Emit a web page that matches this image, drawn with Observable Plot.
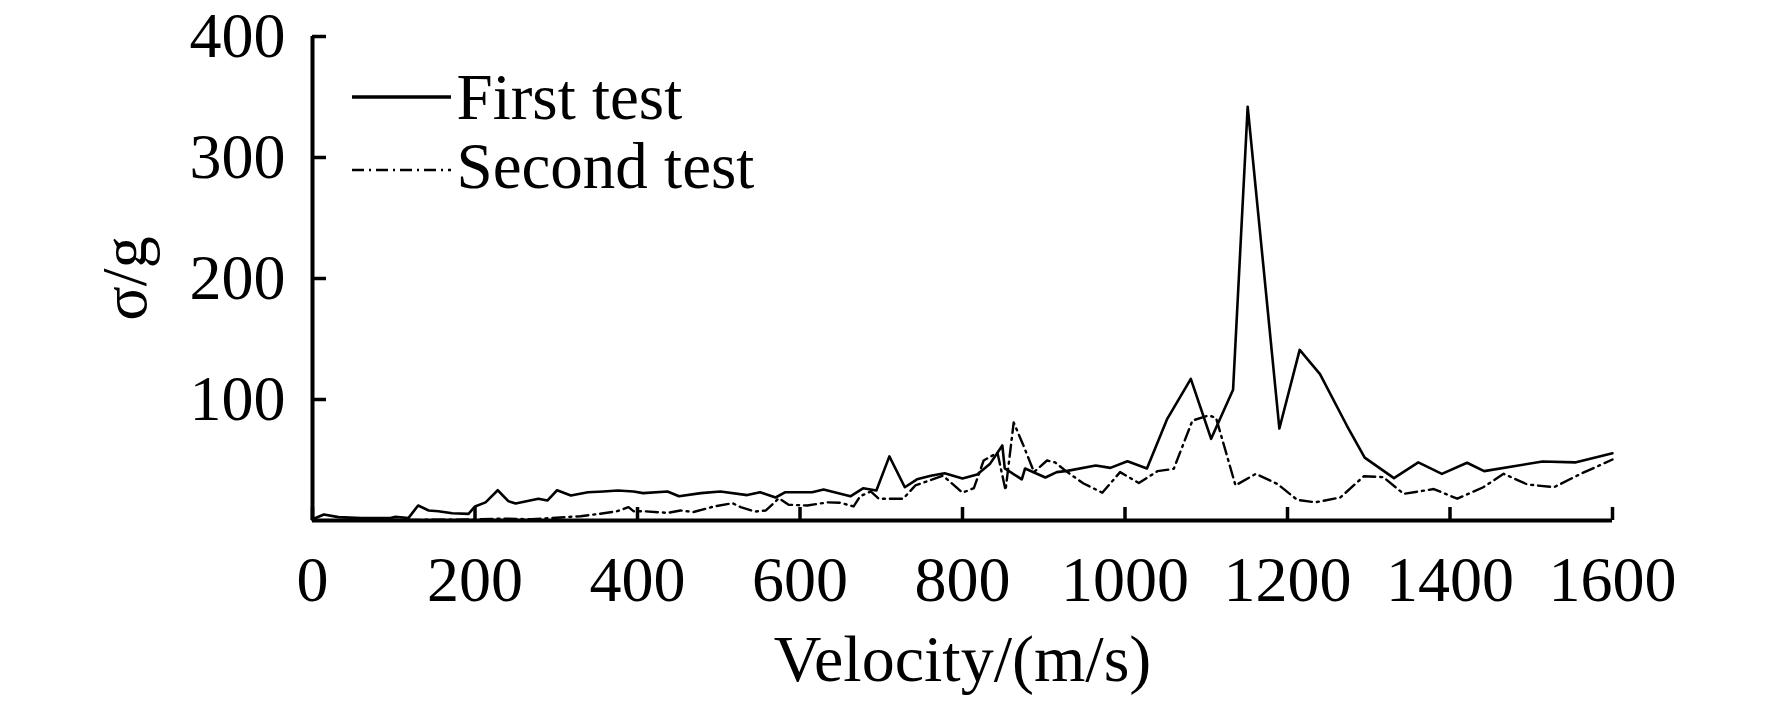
<!DOCTYPE html>
<html>
<head>
<meta charset="utf-8">
<script src="https://cdn.jsdelivr.net/npm/d3@7"></script>
<script src="https://cdn.jsdelivr.net/npm/@observablehq/plot@0.6"></script>
<style>
  html, body { margin: 0; padding: 0; background: #fff; }
  #chart svg { display: block; }
</style>
</head>
<body>
<div id="chart"></div>
<script>
// First test (solid line): velocity (m/s) and σ/g
const firstVelocity = [0, 14, 32, 60, 96, 102, 118, 130, 143, 155, 172, 192, 200, 213, 228, 241, 250, 278, 289, 301, 318, 339, 358, 376, 395, 407, 437, 451, 478, 502, 535, 551, 570, 582, 615, 629, 662, 678, 694, 710, 729, 744, 761, 778, 800, 818, 834, 849, 852, 873, 877, 902, 916, 929, 964, 982, 1003, 1027, 1052, 1081, 1106, 1133, 1151, 1190, 1215, 1240, 1273, 1295, 1331, 1361, 1390, 1421, 1442, 1514, 1554, 1600];
const firstSigma = [1, 5, 2.8, 2, 2, 3, 2, 12.4, 8.3, 7.7, 6, 5.5, 11.6, 15, 25, 16, 14, 18, 16.5, 25, 20.6, 23.4, 24, 24.8, 24, 22.6, 24, 20, 22.6, 24, 21, 23.4, 19, 23.4, 23.4, 25.6, 20, 26.7, 24.8, 53, 27.5, 34, 37, 39, 34.7, 38, 47, 62, 43, 34, 43, 35.5, 40, 41, 45.5, 43.5, 49, 43, 84, 117, 67.5, 108, 342, 76, 141, 121, 78.5, 52, 35, 48, 38.5, 47.7, 40.8, 48.8, 48, 55.6];

// Second test (dash-dot line)
const secondVelocity = [0, 120, 200, 231, 270, 305, 330, 354, 375, 389, 395, 407, 437, 453, 469, 494, 517, 527, 545, 558, 574, 586, 609, 634, 650, 666, 674, 687, 697, 727, 742, 757, 776, 800, 814, 826, 843, 853, 863, 875, 888, 904, 914, 929, 949, 972, 994, 1017, 1040, 1060, 1083, 1103, 1112, 1136, 1161, 1188, 1212, 1234, 1265, 1294, 1318, 1343, 1380, 1409, 1441, 1466, 1495, 1528, 1561, 1600];
const secondSigma = [0.3, 0.5, 0.8, 1.6, 1, 2.5, 3.5, 5.6, 7.7, 11, 7.7, 7.7, 6.3, 8.3, 7, 11.6, 14.3, 11, 7.4, 8.3, 18.4, 13, 12.4, 15, 14.6, 11.6, 20, 24, 18, 18, 29, 32.5, 37, 23, 26.7, 49.6, 56, 25, 81, 62, 40, 49.6, 48, 40, 30.6, 23, 40, 31, 40.8, 42.7, 82.6, 86.8, 85, 29, 38.6, 30, 17, 15, 19, 36.6, 35.8, 22, 26, 18, 27.5, 38.6, 29.8, 27.5, 38.6, 50.4];

const xTicks = [0, 200, 400, 600, 800, 1000, 1200, 1400, 1600];
const yTicks = [100, 200, 300, 400];
const seriesNames = ["First test", "Second test"];
const xLabel = "Velocity/(m/s)";
const yLabel = "σ/g";

const first = firstVelocity.map((v, i) => ({v, s: firstSigma[i]}));
const second = secondVelocity.map((v, i) => ({v, s: secondSigma[i]}));

const FONT = "'Liberation Serif', 'Times New Roman', serif";
const DASH = "12,5,2,5";
const plain = d => String(d);

const chart = Plot.plot({
  width: 1772,
  height: 701,
  marginLeft: 312,
  marginRight: 160,
  marginTop: 36,
  marginBottom: 181,
  x: {domain: [0, 1600]},
  y: {domain: [0, 400]},
  style: {fontFamily: FONT, fontSize: "64px", background: "white", color: "black"},
  marks: [
    Plot.line(first, {x: "v", y: "s", stroke: "black", strokeWidth: 2.6}),
    Plot.line(second, {x: "v", y: "s", stroke: "black", strokeWidth: 2.4, strokeDasharray: DASH}),
    Plot.ruleX([0], {stroke: "black", strokeWidth: 4}),
    Plot.ruleY([0], {stroke: "black", strokeWidth: 4}),
    Plot.axisX(xTicks, {tickSize: -13, tickPadding: 48, strokeWidth: 3.5, label: null, tickFormat: plain, fontSize: 64, fill: "black"}),
    Plot.axisY(yTicks, {tickSize: -14, tickPadding: 41, strokeWidth: 3.5, label: null, tickFormat: plain, fontSize: 64, fill: "black"}),
    Plot.text([yLabel], {frameAnchor: "left", dx: -167, rotate: -90, lineAnchor: "bottom", textAnchor: "middle", fontSize: 64, fill: "black"}),
    Plot.text([xLabel], {frameAnchor: "bottom", dy: 160, lineAnchor: "bottom", textAnchor: "middle", fontSize: 66, fill: "black"}),
    Plot.text([seriesNames[0]], {frameAnchor: "top-left", dx: 144, dy: 82, lineAnchor: "bottom", textAnchor: "start", fontSize: 65, fill: "black"}),
    Plot.text([seriesNames[1]], {frameAnchor: "top-left", dx: 144, dy: 151, lineAnchor: "bottom", textAnchor: "start", fontSize: 65, fill: "black"})
  ]
});

// legend line samples
const svg = d3.select(chart);
svg.append("line").attr("x1", 352).attr("x2", 451).attr("y1", 97).attr("y2", 97)
  .attr("stroke", "black").attr("stroke-width", 3.5);
svg.append("line").attr("x1", 352).attr("x2", 451).attr("y1", 170).attr("y2", 170)
  .attr("stroke", "black").attr("stroke-width", 2.4).attr("stroke-dasharray", DASH);

document.getElementById("chart").appendChild(chart);
</script>
</body>
</html>
